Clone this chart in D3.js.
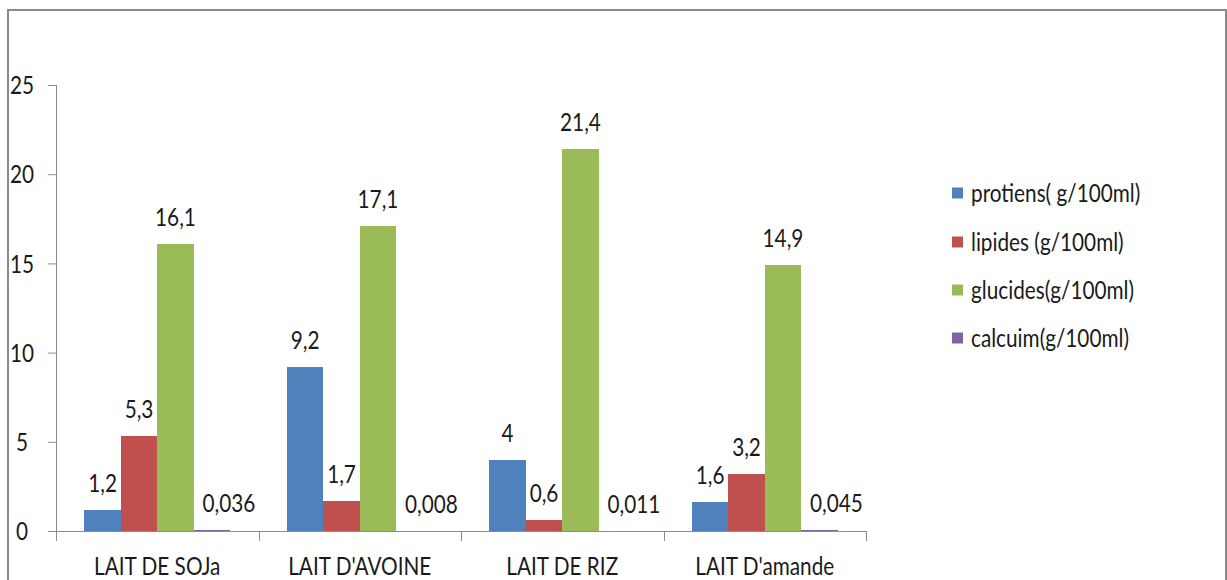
<!DOCTYPE html>
<html><head><meta charset="utf-8">
<script src="https://cdn.jsdelivr.net/npm/d3@7/dist/d3.min.js"></script>
<style>
html,body{margin:0;padding:0;background:#fff;}
svg{display:block;}
text{font-family:Lato,"Open Sans",sans-serif;fill:#1a1a1a;}
</style></head>
<body>
<svg id="chart" width="1227" height="580"></svg>
<script>
const categories = ["LAIT DE SOJa", "LAIT D'AVOINE", "LAIT DE RIZ", "LAIT D'amande"];
const seriesNames = ["protiens( g/100ml)", "lipides (g/100ml)", "glucides(g/100ml)", "calcuim(g/100ml)"];
const protiens = [1.2, 9.2, 4, 1.6];
const lipides = [5.3, 1.7, 0.6, 3.2];
const glucides = [16.1, 17.1, 21.4, 14.9];
const calcuim = [0.036, 0.008, 0.011, 0.045];
const yTicks = [0, 5, 10, 15, 20, 25];
const colors = ["#4F81BD", "#C0504D", "#9BBB59", "#8064A2"];
const seriesValues = [protiens, lipides, glucides, calcuim];

(function () {
const svg = d3.select("#chart");
const fs = 25, sx = 0.83;

function label(parent, x, y, str, anchor, dy) {
  return parent.append("text")
    .attr("transform", `translate(${x},${y}) scale(${sx},1)`)
    .attr("text-anchor", anchor || "start")
    .attr("dy", dy || 0)
    .attr("font-size", fs)
    .text(str);
}

// outer frame
svg.append("rect").attr("x", 8).attr("y", 10).attr("width", 1218).attr("height", 600)
  .attr("fill", "none").attr("stroke", "#8a8a8a").attr("stroke-width", 2);

const pL = 56, pR = 866, pT = 85, pB = 531;
const x0 = d3.scaleBand().domain(categories).range([pL, pR]).paddingInner(0).paddingOuter(0);
const x1 = d3.scaleBand().domain(seriesNames).range([0, x0.bandwidth()]).paddingInner(0).paddingOuter(0.775);
const y = d3.scaleLinear().domain([0, 25]).range([pB, pT]);

const axisColor = "#8c8c8c";

// y axis
const yAxis = svg.append("g").attr("transform", `translate(${pL},0)`)
  .call(d3.axisLeft(y).tickValues(yTicks).tickSize(8).tickFormat(d => d));
yAxis.attr("font-family", null).attr("font-size", null);
yAxis.select(".domain").attr("stroke", axisColor).attr("d", `M0.5,${pT}V${pB}`);
yAxis.selectAll(".tick line").attr("stroke", axisColor);
yAxis.selectAll(".tick text")
  .attr("x", null).attr("dy", "0.35em")
  .attr("transform", `translate(${22 - pL},0) scale(${sx},1)`)
  .attr("text-anchor", "middle")
  .attr("font-size", fs).attr("fill", "#1a1a1a");

// x axis line and ticks
const xg = svg.append("g");
xg.append("line").attr("x1", pL).attr("x2", pR).attr("y1", pB + 0.5).attr("y2", pB + 0.5)
  .attr("stroke", axisColor);
const bounds = categories.map(c => x0(c)).concat([x0(categories[categories.length - 1]) + x0.bandwidth()]);
xg.selectAll("line.tk").data(bounds).join("line").attr("class", "tk")
  .attr("x1", d => Math.round(d) + 0.5).attr("x2", d => Math.round(d) + 0.5)
  .attr("y1", pB).attr("y2", pB + 10).attr("stroke", axisColor);
categories.forEach(c => label(xg, x0(c) + x0.bandwidth() / 2, 575, c, "middle"));

// bars
const fmt = v => String(v).replace(".", ",");
seriesNames.forEach((s, si) => {
  const g = svg.append("g");
  const data = categories.map((c, ci) => ({c, v: seriesValues[si][ci]}));
  g.selectAll("rect").data(data).join("rect")
    .attr("x", d => x0(d.c) + x1(s))
    .attr("width", x1.bandwidth())
    .attr("y", d => y(d.v))
    .attr("height", d => y(0) - y(d.v))
    .attr("shape-rendering", "crispEdges")
    .attr("fill", colors[si]);
  data.forEach(d => label(g, x0(d.c) + x1(s) + x1.bandwidth() / 2 + (si === 3 ? 17 : 0),
    y(d.v) - 18, fmt(d.v), "middle"));
});

// legend
const legY = [193, 242, 290, 338];
const lg = svg.append("g");
seriesNames.forEach((s, i) => {
  lg.append("rect").attr("x", 952).attr("y", legY[i] - 5.5).attr("width", 11).attr("height", 11).attr("fill", colors[i]);
  label(lg, 971, legY[i], s, "start", "0.35em");
});
})();
</script>
</body></html>
